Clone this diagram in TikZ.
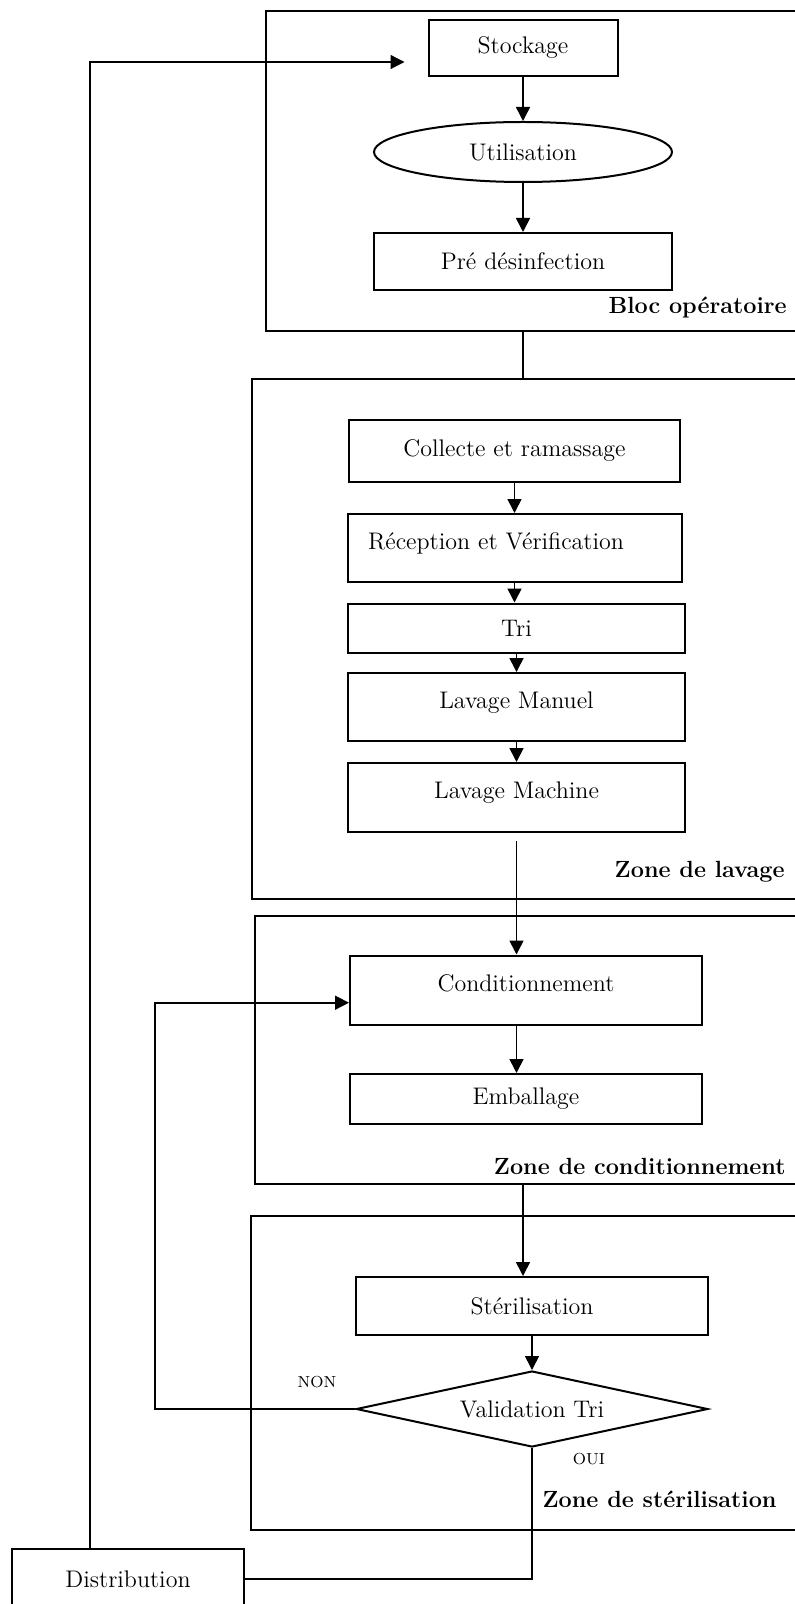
\documentclass[tikz,border=0pt]{standalone}
\usepackage{xcolor}
\usepackage{tikz}
\usetikzlibrary{shapes.geometric, arrows.meta, positioning}
\tikzstyle{block} = [rectangle, draw=black, line width=1pt, text centered, inner sep=2pt, font=\fontsize{12}{14}\selectfont]
\tikzstyle{highbox} = [text depth=7pt]
\tikzstyle{usage} = [ellipse, draw=black, line width=1pt, inner sep=1pt, font=\fontsize{12}{14}\selectfont]
\tikzstyle{decision} = [diamond, aspect=4.6, draw=black, line width=1pt, inner sep=1pt, font=\fontsize{12}{14}\selectfont]
\tikzstyle{zone} = [rectangle, draw=black, line width=1pt]
\tikzstyle{zonelabel} = [anchor=east, inner sep=0pt, font=\fontsize{11.7}{14}\selectfont\bfseries]
\tikzstyle{answer} = [inner sep=0pt, font=\fontsize{8}{9}\selectfont]
\tikzstyle{arrow} = [line width=0.8pt, -{Triangle[length=7pt, width=7pt]}]
\tikzstyle{link} = [line width=0.8pt]

\begin{document}
\begin{tikzpicture}[x=0.5pt, y=-0.5pt]
            \useasboundingbox (0,0) rectangle (795,1604);
            \clip (0,0) rectangle (795,1604);
            % Zones
            \node [zone, minimum width=272pt, minimum height=160pt] (bloc) at (538,170.85) {};
            \node [zone, minimum width=278.8pt, minimum height=260pt] (lavage) at (531.2,639.15) {};
            \node [zone, minimum width=277.75pt, minimum height=134pt] (condit) at (532.25,1050) {};
            \node [zone, minimum width=279.7pt, minimum height=156.9pt] (steril) at (530.3,1372.6) {};
            \node [zonelabel] (blocname) at (787,308) {Bloc opératoire};
            \node [zonelabel] (lavagename) at (785,872) {Zone de lavage};
            \node [zonelabel] (conditname) at (786,1166) {Zone de conditionnement};
            \node [zonelabel] (sterilname) at (777,1499) {Zone de stérilisation};

            % Nodes
            \node [block, minimum width=94.5pt, minimum height=28pt] (stockage) at (523,48) {Stockage};
            \node [usage, minimum width=149pt, minimum height=30pt] (utilisation) at (523,152) {Utilisation};
            \node [block, minimum width=149pt, minimum height=28.5pt] (predes) at (523,261.5) {Pré désinfection};
            \node [block, minimum width=165.5pt, minimum height=31pt] (collecte) at (514.5,451) {Collecte et ramassage};
            \node [block, highbox, minimum height=34pt, text width=147pt, inner xsep=10pt, align=left] (reception) at (515,548) {Réception et Vérification};
            \node [block, minimum width=168.5pt, minimum height=24.5pt] (tri) at (516.5,628) {Tri};
            \node [block, highbox, minimum width=168.5pt, minimum height=34pt] (manuel) at (516.5,707) {Lavage Manuel};
            \node [block, highbox, minimum width=168.5pt, minimum height=34.5pt] (machine) at (516.5,797.5) {Lavage Machine};
            \node [block, highbox, minimum width=176pt, minimum height=34.5pt] (cond) at (526,990) {Conditionnement};
            \node [block, minimum width=176pt, minimum height=25pt] (emballage) at (526,1099) {Emballage};
            \node [block, minimum width=176pt, minimum height=29pt] (sterilisation) at (532,1306) {Stérilisation};
            \node [decision, minimum width=175.75pt, minimum height=38pt] (validation) at (532,1409) {Validation Tri};
            \node [block, minimum width=116pt, minimum height=30pt] (distribution) at (128,1579) {Distribution};
            \node [answer] (non) at (317,1382) {NON};
            \node [answer] (oui) at (589,1459) {OUI};

            % Arrows
            \draw [arrow] (stockage) -- (utilisation);
            \draw [arrow] (utilisation) -- (predes);
            \draw [link] (bloc.south -| utilisation) -- (lavage.north -| utilisation);
            \draw [arrow] (collecte.south) -- (collecte.south |- reception.north);
            \draw [arrow] (collecte.south |- reception.south) -- (collecte.south |- tri.north);
            \draw [arrow] (tri.south) -- (manuel.north);
            \draw [arrow] (manuel.south) -- (machine.north);
            \draw [arrow] ([yshift=-4pt]machine.south) -- (machine.south |- cond.north);
            \draw [arrow] (cond.south -| machine) -- (emballage.north -| machine);
            \draw [arrow] (condit.south -| utilisation) -- (sterilisation.north -| utilisation);
            \draw [arrow] (sterilisation) -- (validation);
            \draw [arrow] (validation.west) -- ++(-200,0) |- ([yshift=-6.35pt]cond.west);
            \draw [link] (validation.south) |- (distribution.east);
            \draw [arrow, line width=0.6pt] ([xshift=-19pt]distribution.north) |- ([xshift=-11.5pt, yshift=-7pt]stockage.west);
        \end{tikzpicture}
\end{document}
